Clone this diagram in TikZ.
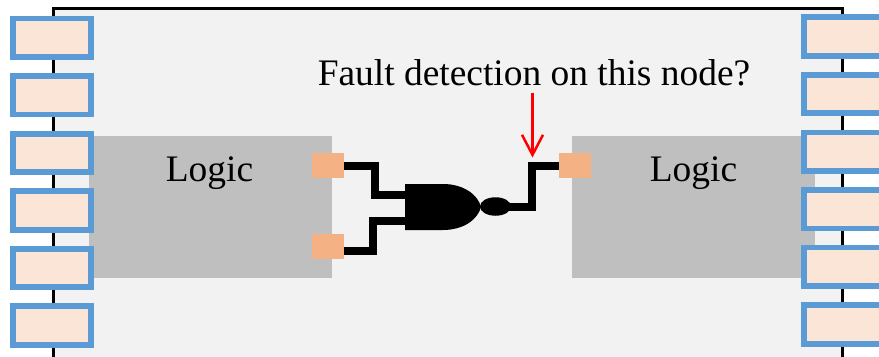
\documentclass[tikz,border=0pt]{standalone}
\usepackage{fontspec}
\setmainfont{Liberation Serif}
\usetikzlibrary{arrows.meta}
\usetikzlibrary{shapes.geometric}
\definecolor{chipgray}{HTML}{F2F2F2}
\definecolor{logicgray}{HTML}{BFBFBF}
\definecolor{padblue}{HTML}{5B9BD5}
\definecolor{padfill}{HTML}{FBE5D6}
\definecolor{portorange}{HTML}{F4B183}
\tikzstyle{chip}=[draw, fill=chipgray, line width=0.06cm, minimum width=15.78cm, minimum height=7cm, inner sep=0, outer sep=0]
\tikzstyle{logic block}=[fill=logicgray, minimum width=4.86cm, minimum height=2.84cm, inner sep=0, outer sep=0]
\tikzstyle{pad}=[draw=padblue, fill=padfill, line width=0.116cm, minimum width=1.56cm, minimum height=0.77cm, inner sep=0, outer sep=0]
\tikzstyle{port}=[fill=portorange, minimum width=0.64cm, minimum height=0.5cm, inner sep=0, outer sep=0]
\tikzstyle{label}=[font=\fontsize{21.3}{25}\selectfont, inner sep=0]
\tikzstyle{wire}=[line width=0.16cm, line join=miter]
\tikzstyle{bubble}=[fill=black, ellipse, minimum width=0.62cm, minimum height=0.37cm, inner sep=0, outer sep=0]
\tikzstyle{probe}=[red, line width=0.05cm, -{Straight Barb[length=0.4cm, width=0.42cm]}]

\begin{document}
\begin{tikzpicture}
      \useasboundingbox (0, 0) rectangle (17.58, 7.12);
      \node[chip] (die) at (8.95, 3.454) {};
      \node[logic block] (logicleft) at (4.21, 2.98) {};
      \node[logic block] (logicright) at (13.87, 2.98) {};
      \node[label] (logictextleft) at (4.19, 3.65) {Logic};
      \node[label] (logictextright) at (13.87, 3.65) {Logic};
      \node[label] (question) at (10.68, 5.66) {Fault detection on this node?};

      \node[pad] (padl1) at (1.036, 6.364) {};
      \node[pad] (padl2) at (1.036, 5.214) {};
      \node[pad] (padl3) at (1.036, 4.06) {};
      \node[pad] (padl4) at (1.036, 2.91) {};
      \node[pad] (padl5) at (1.036, 1.76) {};
      \node[pad] (padl6) at (1.036, 0.61) {};
      \node[pad] (padr1) at (16.86, 6.39) {};
      \node[pad] (padr2) at (16.86, 5.24) {};
      \node[pad] (padr3) at (16.86, 4.086) {};
      \node[pad] (padr4) at (16.86, 2.936) {};
      \node[pad] (padr5) at (16.86, 1.784) {};
      \node[pad] (padr6) at (16.86, 0.632) {};

      \node[port] (porta) at (6.56, 3.81) {};
      \node[port] (portb) at (6.56, 2.19) {};
      \node[port] (portc) at (11.5, 3.81) {};

      \coordinate (gatea) at (8.1, 3.22);
      \coordinate (gateb) at (8.1, 2.71);
      \coordinate (corner) at (10.64, 3.81);
      \coordinate (top) at (10.65, 5.26);
      \coordinate (tip) at (10.65, 3.97);
      \coordinate (portbout) at (6.88, 2.106);
      \node[bubble] (invert) at (9.91, 2.99) {};

      \fill (8.1, 3.44) -- (8.86, 3.44)
        .. controls (9.28, 3.44) and (9.56, 3.22) .. (9.62, 2.98)
        .. controls (9.56, 2.74) and (9.28, 2.52) .. (8.86, 2.52)
        -- (8.1, 2.52) -- cycle;
      \draw[wire] (porta.east) -| (7.49, 3.22) -- (gatea);
      \draw[wire] (portbout) -| (7.46, 2.71) -- (gateb);
      \draw[wire] (invert.center) -| (corner) -- (portc.west);
      \draw[probe] (top) -- (tip);
    \end{tikzpicture}
\end{document}
